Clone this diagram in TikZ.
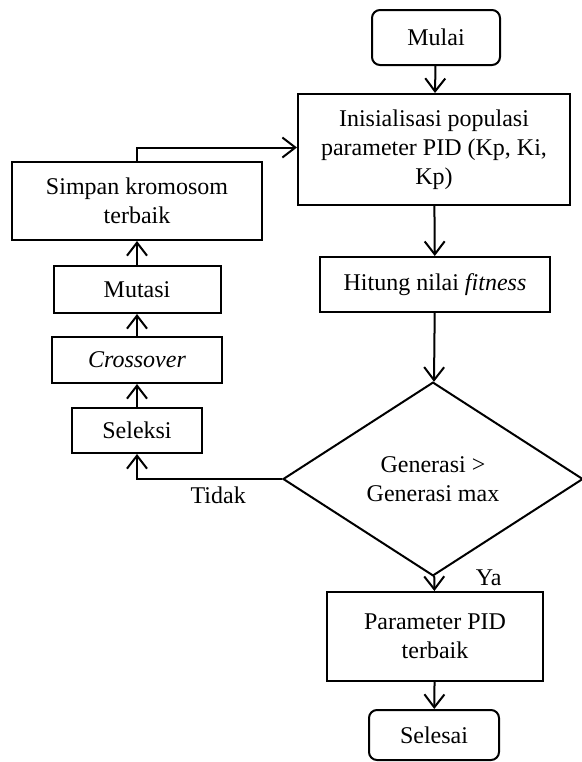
\documentclass[tikz,border=0pt]{standalone}
\usepackage{fontspec}
\setmainfont{Liberation Serif}
\usetikzlibrary{shapes.geometric,arrows.meta}
\begin{document}
\begin{tikzpicture}[x=0.5pt,y=-0.5pt]
      \tikzset{proc/.style={draw, line width=1pt, align=center, inner sep=2pt, font=\fontsize{12}{14.5}\selectfont},
               term/.style={proc, rounded corners=4pt},
               cond/.style={proc, diamond, minimum width=150pt, minimum height=82pt},
               arr/.style={line width=1pt, -{Straight Barb[length=6.5pt, width=10pt, line width=1pt]}},
               lbl/.style={font=\fontsize{12}{14}\selectfont}}
      \useasboundingbox (0,0) rectangle (582,762);
%% Main column
      	\node[term, minimum width=64pt, minimum height=27.5pt] (mulai) at (436,37.5) {Mulai};
      	\node[proc, minimum width=136pt, minimum height=55.5pt] (init) at (434,149.5) {Inisialisasi populasi\\parameter PID (Kp, Ki,\\Kp)};
      	\node[proc, minimum width=115pt, minimum height=27.5pt] (hitung) at (435,284.5) {Hitung nilai \textit{fitness}};
      	\node[cond] (cek) at (433,479) {Generasi >\\Generasi max};
      	\node[proc, minimum width=108pt, minimum height=44.5pt] (param) at (435,636.5) {Parameter PID\\terbaik};
      	\node[term, minimum width=65pt, minimum height=25pt] (selesai) at (434,735) {Selesai};
%% Left column
      	\node[proc, minimum width=125pt, minimum height=39pt] (simpan) at (137,201) {Simpan kromosom\\terbaik};
      	\node[proc, minimum width=83.5pt, minimum height=23.5pt] (mutasi) at (137,289.5) {Mutasi};
      	\node[proc, minimum width=85pt, minimum height=23pt] (cross) at (137,360) {\textit{Crossover}};
      	\node[proc, minimum width=65pt, minimum height=22.5pt] (seleksi) at (137,430.5) {Seleksi};
%Edges
		\path[arr] (mulai) edge (init);
		\path[arr] (init) edge (hitung);
		\path[arr] (hitung) edge (cek);
		\path[arr] (cek) edge node[lbl, pos=0.1, right, xshift=17pt] {Ya} (param);
		\path[arr] (param) edge (selesai);
		\draw[arr] (cek.west) -| node[lbl, pos=0.22, below] {Tidak} (seleksi.south);
		\path[arr] (seleksi) edge (cross);
		\path[arr] (cross) edge (mutasi);
		\path[arr] (mutasi) edge (simpan);
		\draw[arr] (simpan.north) |- ([yshift=1pt]init.west);
	\end{tikzpicture}
\end{document}
